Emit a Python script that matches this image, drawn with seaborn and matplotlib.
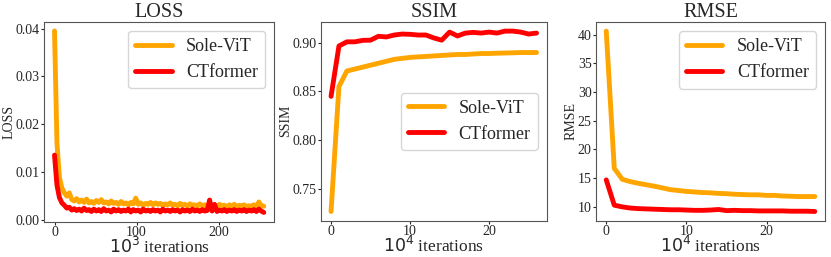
import numpy as np
import pandas as pd
import matplotlib
matplotlib.use('Agg')
import matplotlib.pyplot as plt
import seaborn as sns

# loss curves, x in 10^3 iterations (every 3)
loss_x = list(range(0, 256, 3))
loss_vit = [0.0395, 0.0160, 0.0088, 0.0066, 0.0056, 0.0049, 0.0056, 0.0042, 0.0039, 0.0044,
            0.0037, 0.0041, 0.0036, 0.0043, 0.0035, 0.0038, 0.0034, 0.0040, 0.0036, 0.0042,
            0.0035, 0.0037, 0.0033, 0.0039, 0.0034, 0.0036, 0.0032, 0.0038, 0.0033, 0.0035,
            0.0031, 0.0036, 0.0033, 0.0045, 0.0032, 0.0035, 0.0030, 0.0034, 0.0032, 0.0036,
            0.0031, 0.0035, 0.0032, 0.0034, 0.0030, 0.0033, 0.0031, 0.0035, 0.0030, 0.0032,
            0.0029, 0.0034, 0.0030, 0.0032, 0.0028, 0.0033, 0.0030, 0.0031, 0.0028, 0.0033,
            0.0029, 0.0031, 0.0028, 0.0032, 0.0029, 0.0031, 0.0027, 0.0032, 0.0029, 0.0030,
            0.0027, 0.0031, 0.0028, 0.0032, 0.0027, 0.0030, 0.0028, 0.0031, 0.0027, 0.0029,
            0.0028, 0.0031, 0.0027, 0.0037, 0.0029, 0.0028]
loss_ct = [0.0135, 0.0072, 0.0046, 0.0035, 0.0030, 0.0024, 0.0026, 0.0020, 0.0023, 0.0019,
           0.0022, 0.0018, 0.0024, 0.0019, 0.0021, 0.0017, 0.0022, 0.0018, 0.0021, 0.0017,
           0.0023, 0.0018, 0.0020, 0.0016, 0.0022, 0.0018, 0.0021, 0.0017, 0.0020, 0.0018,
           0.0022, 0.0016, 0.0021, 0.0018, 0.0020, 0.0016, 0.0022, 0.0018, 0.0020, 0.0017,
           0.0021, 0.0018, 0.0020, 0.0016, 0.0022, 0.0018, 0.0020, 0.0017, 0.0021, 0.0018,
           0.0020, 0.0016, 0.0021, 0.0018, 0.0020, 0.0017, 0.0022, 0.0018, 0.0020, 0.0017,
           0.0021, 0.0018, 0.0019, 0.0041, 0.0018, 0.0032, 0.0017, 0.0020, 0.0018, 0.0021,
           0.0017, 0.0020, 0.0018, 0.0021, 0.0017, 0.0020, 0.0018, 0.0021, 0.0017, 0.0020,
           0.0018, 0.0021, 0.0017, 0.0022, 0.0018, 0.0015]

# ssim / rmse, x in 10^4 iterations
eval_x = list(range(27))
ssim_vit = [0.7267, 0.855, 0.871, 0.873, 0.875, 0.877, 0.879, 0.881, 0.883, 0.884,
            0.885, 0.8855, 0.886, 0.8865, 0.887, 0.8875, 0.888, 0.888, 0.8885, 0.889,
            0.889, 0.8893, 0.8895, 0.8897, 0.890, 0.890, 0.890]
ssim_ct = [0.845, 0.8967, 0.901, 0.901, 0.9025, 0.9027, 0.9067, 0.906, 0.908, 0.909,
           0.9087, 0.908, 0.908, 0.905, 0.9027, 0.911, 0.907, 0.910, 0.9107, 0.910,
           0.911, 0.910, 0.912, 0.912, 0.911, 0.909, 0.910]
rmse_vit = [40.6, 16.7, 14.8, 14.4, 14.1, 13.85, 13.6, 13.3, 13.0, 12.85,
            12.7, 12.6, 12.5, 12.45, 12.35, 12.3, 12.2, 12.15, 12.1, 12.1,
            12.0, 12.0, 11.9, 11.85, 11.8, 11.8, 11.8]
rmse_ct = [14.7, 10.3, 10.0, 9.8, 9.7, 9.65, 9.6, 9.55, 9.5, 9.5,
           9.45, 9.4, 9.4, 9.45, 9.55, 9.35, 9.4, 9.35, 9.35, 9.3,
           9.3, 9.3, 9.3, 9.25, 9.25, 9.25, 9.2]

sns.set_style('ticks')
plt.rcParams['font.family'] = ['Liberation Serif', 'DejaVu Serif']
plt.rcParams['mathtext.fontset'] = 'dejavusans'
plt.rcParams['axes.edgecolor'] = '#555555'
plt.rcParams['xtick.major.size'] = 2
plt.rcParams['ytick.major.size'] = 2

fig = plt.figure(figsize=(8.31, 2.57), dpi=100)
axes = [fig.add_axes([0.053, 0.138, 0.277, 0.777]),
        fig.add_axes([0.386, 0.142, 0.272, 0.772]),
        fig.add_axes([0.717, 0.142, 0.276, 0.772])]

panels = [
    ('LOSS', loss_x, loss_vit, loss_ct, r'$10^3$ iterations', 'upper right'),
    ('SSIM', eval_x, ssim_vit, ssim_ct, r'$10^4$ iterations', 'center right'),
    ('RMSE', eval_x, rmse_vit, rmse_ct, r'$10^4$ iterations', 'upper right'),
]

for ax, (name, xs, vit, ct, xlab, loc) in zip(axes, panels):
    sns.lineplot(x=xs, y=vit, ax=ax, color='orange', linewidth=3.5, label='Sole-ViT')
    sns.lineplot(x=xs, y=ct, ax=ax, color='red', linewidth=3.5, label='CTformer')
    ax.set_title(name, fontsize=14.5, pad=2)
    ax.set_ylabel(name, fontsize=10, labelpad=0)
    ax.set_xlabel(xlab, fontsize=12.5, labelpad=-1)
    ax.tick_params(labelsize=10, pad=1)
    for s in ax.spines.values():
        s.set_visible(True)
    ax.legend(loc=loc, fontsize=13)

axes[1].set_yticks([0.75, 0.80, 0.85, 0.90])
axes[2].set_yticks([10, 15, 20, 25, 30, 35, 40])

fig.savefig('out.png', dpi=100)
